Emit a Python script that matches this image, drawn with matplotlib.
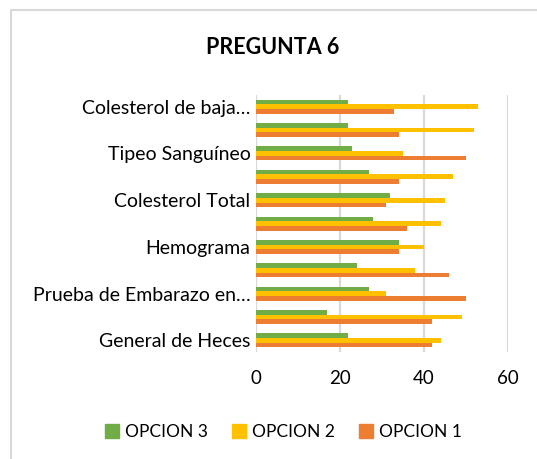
import numpy as np
import matplotlib.pyplot as plt
from matplotlib.patches import Rectangle, Patch

plt.rcParams['font.family'] = ['Lato', 'DejaVu Sans']

# categories from bottom to top of the chart
categories = [
    "General de Heces",
    "Examen General de Orina",
    "Prueba de Embarazo en…",
    "Glucosa",
    "Hemograma",
    "Triglicéridos",
    "Colesterol Total",
    "Ácido Úrico",
    "Tipeo Sanguíneo",
    "Colesterol de alta densidad",
    "Colesterol de baja…",
]
opcion1 = [42, 42, 50, 46, 34, 36, 31, 34, 50, 34, 33]
opcion2 = [44, 49, 31, 38, 40, 44, 45, 47, 35, 52, 53]
opcion3 = [22, 17, 27, 24, 34, 28, 32, 27, 23, 22, 22]
x_ticks = [0, 20, 40, 60]

c1 = '#ED7D31'
c2 = '#FFC000'
c3 = '#70AD47'
grid_c = '#D9D9D9'

fig = plt.figure(figsize=(5.37, 4.59), dpi=100)
ax = fig.add_axes([0.4767, 0.233, 0.4687, 0.560])

y = np.arange(len(categories))
h = 0.2
ax.barh(y - h, opcion1, height=h, color=c1, zorder=3)
ax.barh(y, opcion2, height=h, color=c2, zorder=3)
ax.barh(y + h, opcion3, height=h, color=c3, zorder=3)

ax.set_xlim(0, 60)
ax.set_ylim(-0.5, len(categories) - 0.5)
ax.set_xticks(x_ticks)
ax.set_xticklabels([str(t) for t in x_ticks], fontsize=13.5)
ax.set_yticks(y[::2])
ax.set_yticklabels(categories[::2], fontsize=14)
ax.tick_params(length=0, pad=4)
ax.tick_params(axis='x', pad=13)
ax.grid(axis='x', color=grid_c, linewidth=1.6, zorder=0)
for s in ax.spines.values():
    s.set_visible(False)

fig.text(0.507, 0.897, "PREGUNTA 6", ha='center', va='center',
         fontsize=15.5, fontweight='bold')

handles = [Patch(color=c3, label='OPCION 3'),
           Patch(color=c2, label='OPCION 2'),
           Patch(color=c1, label='OPCION 1')]
fig.legend(handles=handles, loc='center', bbox_to_anchor=(0.528, 0.059),
           ncol=3, frameon=False, fontsize=12.5, handlelength=0.8,
           handleheight=0.8, handletextpad=0.35, columnspacing=1.4)

# chart area frame
fig.patches.append(Rectangle((11 / 537, -0.1), 1.2, 1 - 10 / 459 + 0.1,
                             transform=fig.transFigure, fill=False,
                             edgecolor=grid_c, linewidth=1.5))

fig.savefig('out.png', dpi=100)
